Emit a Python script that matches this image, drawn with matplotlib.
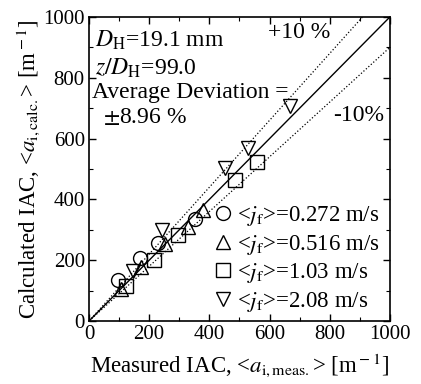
import numpy as np
import matplotlib
matplotlib.use('Agg')
import matplotlib.pyplot as plt
from matplotlib.ticker import MultipleLocator

# measured / calculated IAC [1/m]
meas_272 = [97, 169, 230, 352]
calc_272 = [135, 208, 256, 335]
meas_516 = [106, 174, 252, 330, 380]
calc_516 = [104, 179, 254, 310, 365]
meas_103 = [124, 217, 297, 486, 558]
calc_103 = [115, 201, 283, 464, 524]
meas_208 = [147, 241, 452, 530, 669]
calc_208 = [166, 299, 502, 570, 708]

labels = ['0.272', '0.516', '1.03', '2.08']

plt.rcParams['font.family'] = ['Liberation Serif', 'DejaVu Serif']
plt.rcParams['mathtext.fontset'] = 'stix'
plt.rcParams['font.size'] = 15

fig = plt.figure(figsize=(4.21, 3.84), dpi=100)
ax = fig.add_axes([0.2114, 0.164, 0.7146, 0.7917])

x = np.array([0, 1000])
ax.plot(x, x, '-', color='black', lw=1.0)
ax.plot(x, 1.1 * x, ':', color='black', lw=0.9)
ax.plot(x, 0.9 * x, ':', color='black', lw=0.9)

mk = dict(mfc='none', mec='black', ms=10, mew=1.0, ls='none')
jf = r'<$j_{\rm f}$>='
ax.plot(meas_272, calc_272, 'o', label=jf + labels[0] + ' m/s', **mk)
ax.plot(meas_516, calc_516, '^', label=jf + labels[1] + ' m/s', **mk)
ax.plot(meas_103, calc_103, 's', label=jf + labels[2] + ' m/s', **mk)
ax.plot(meas_208, calc_208, 'v', label=jf + labels[3] + ' m/s', **mk)

ax.set_xlim(0, 1000)
ax.set_ylim(0, 1000)
ax.xaxis.set_major_locator(MultipleLocator(200))
ax.yaxis.set_major_locator(MultipleLocator(200))
ax.xaxis.set_minor_locator(MultipleLocator(100))
ax.yaxis.set_minor_locator(MultipleLocator(100))
ax.tick_params(which='both', direction='in', top=True, right=True, labelsize=15)
ax.tick_params(which='major', length=5, width=1.0, pad=3)
ax.tick_params(which='minor', length=3, width=0.8)
for s in ax.spines.values():
    s.set_linewidth(1.2)

ax.set_xlabel(r'Measured IAC, <$a_{\rm i,meas.}$> [m$^{\rm -1}$]', fontsize=16.5, labelpad=5)
ax.set_ylabel(r'Calculated IAC, <$a_{\rm i,calc.}$> [m$^{\rm -1}$]', fontsize=16.5, labelpad=1)

ax.text(0.02, 0.96, r'$D_{\rm H}$=19.1 mm', transform=ax.transAxes, va='top', fontsize=17)
ax.text(0.02, 0.87, r'$z/D_{\rm H}$=99.0', transform=ax.transAxes, va='top', fontsize=17)
ax.text(0.01, 0.785, 'Average Deviation =', transform=ax.transAxes, va='top', fontsize=17)
ax.text(0.045, 0.705, r'$\pm$8.96 %', transform=ax.transAxes, va='top', fontsize=17)
ax.text(0.595, 0.985, '+10 %', transform=ax.transAxes, va='top', fontsize=17)
ax.text(0.81, 0.71, '-10%', transform=ax.transAxes, va='top', fontsize=17)

ax.legend(loc='lower right', bbox_to_anchor=(1.013, -0.022), frameon=False, fontsize=16.5,
          handlelength=0.8, handletextpad=0.2, labelspacing=0.2, borderaxespad=0.2)

fig.savefig('out.png', dpi=100)
